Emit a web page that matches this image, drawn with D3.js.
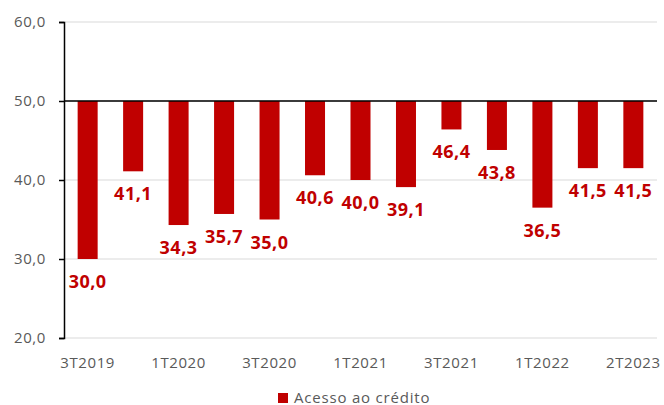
<!DOCTYPE html>
<html>
<head>
<meta charset="utf-8">
<script src="https://cdn.jsdelivr.net/npm/d3@7"></script>
<style>
body { margin: 0; background: #fff; }
svg { display: block; }
</style>
</head>
<body>
<svg></svg>
<script>
var categories = ["3T2019", "4T2019", "1T2020", "2T2020", "3T2020", "4T2020", "1T2021",
	"2T2021", "3T2021", "4T2021", "1T2022", "1T2023", "2T2023"];
var values = [30.0, 41.1, 34.3, 35.7, 35.0, 40.6, 40.0, 39.1, 46.4, 43.8, 36.5, 41.5, 41.5];
var shownLabels = ["3T2019", "1T2020", "3T2020", "1T2021", "3T2021", "1T2022", "2T2023"];
var yTicks = [20, 30, 40, 50, 60];
var seriesName = "Acesso ao crédito";

var width = 664;
var height = 405;
var baseline = 50;

var fmt = function(v){
	return v.toFixed(1).replace(".", ",");
};

var svg = d3.select('svg')
	.attr("width", width)
	.attr("height", height);

var x = d3.scaleBand()
	.domain(categories)
	.range([64, 657])
	.paddingInner(0.56)
	.paddingOuter(0.3);

var y = d3.scaleLinear()
	.domain([20, 60])
	.range([338, 22]);

// gridlines
svg.selectAll('line.grid')
	.data(yTicks)
	.enter()
	.append('line')
	.attr('class', 'grid')
	.attr('x1', 64)
	.attr('x2', 657)
	.attr('y1', function(d){ return y(d); })
	.attr('y2', function(d){ return y(d); })
	.style('stroke', '#d9d9d9')
	.style('stroke-width', 1);

// bars hanging from 50
svg.selectAll('rect.bar')
	.data(values)
	.enter()
	.append('rect')
	.attr('class', 'bar')
	.attr('x', function(d, i){ return x(categories[i]); })
	.attr('width', x.bandwidth())
	.attr('y', function(d){ return y(Math.max(d, baseline)); })
	.attr('height', function(d){ return Math.abs(y(d) - y(baseline)); })
	.style('fill', '#c00000');

// value labels
svg.selectAll('text.val')
	.data(values)
	.enter()
	.append('text')
	.attr('class', 'val')
	.attr('x', function(d, i){ return x(categories[i]) + x.bandwidth() / 2; })
	.attr('y', function(d){ return y(d) + 22; })
	.attr('text-anchor', 'middle')
	.attr('dominant-baseline', 'central')
	.style('font-family', '"Open Sans", sans-serif')
	.style('font-weight', 'bold')
	.style('font-size', '18px')
	.style('letter-spacing', '0.5px')
	.style('fill', '#c00000')
	.text(fmt);

// y axis
var yAxis = d3.axisLeft(y)
	.tickValues(yTicks)
	.tickSize(5)
	.tickPadding(13)
	.tickFormat(fmt);

var gy = svg.append('g')
	.attr('transform', 'translate(64,0)')
	.call(yAxis);
gy.select('.domain').attr('stroke', '#000').attr('stroke-width', 1.5);
gy.selectAll('.tick line').attr('stroke', '#000').attr('stroke-width', 1.5);
gy.selectAll('.tick text')
	.style('font-family', '"Open Sans", sans-serif')
	.style('font-size', '15px')
	.style('letter-spacing', '0.6px')
	.style('fill', '#595959');

// baseline at 50
svg.append('line')
	.attr('x1', 64)
	.attr('x2', 657)
	.attr('y1', y(baseline))
	.attr('y2', y(baseline))
	.style('stroke', '#000')
	.style('stroke-width', 1.5);

// x axis labels
var xAxis = d3.axisBottom(x)
	.tickValues(shownLabels)
	.tickSize(0)
	.tickPadding(0);

var gx = svg.append('g')
	.attr('transform', 'translate(0,' + 357 + ')')
	.call(xAxis);
gx.select('.domain').remove();
gx.selectAll('.tick text')
	.style('font-family', '"Open Sans", sans-serif')
	.style('font-size', '15px')
	.style('letter-spacing', '0.6px')
	.style('fill', '#595959');

// legend
var legend = svg.append('g').attr('transform', 'translate(278,393)');
legend.append('rect')
	.attr('width', 10)
	.attr('height', 10)
	.style('fill', '#c00000');
legend.append('text')
	.attr('x', 16)
	.attr('y', 4)
	.attr('dominant-baseline', 'central')
	.style('font-family', '"Open Sans", sans-serif')
	.style('font-size', '15px')
	.style('letter-spacing', '0.8px')
	.style('fill', '#595959')
	.text(seriesName);
</script>
</body>
</html>
